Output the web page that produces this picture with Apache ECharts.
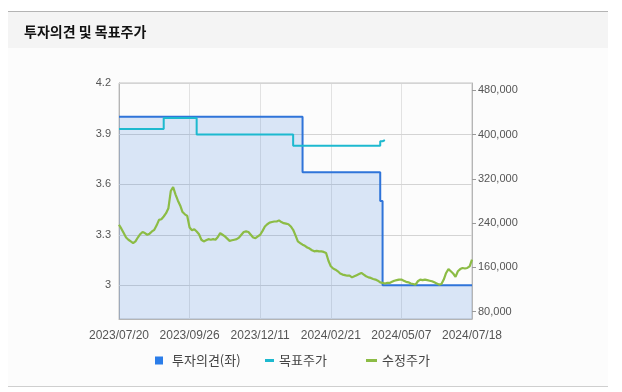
<!DOCTYPE html>
<html>
<head>
<meta charset="utf-8">
<script src="https://cdn.jsdelivr.net/npm/echarts@6/dist/echarts.min.js"></script>
<style>
html, body { margin: 0; padding: 0; background: #fff; }
#main { width: 622px; height: 392px; }
</style>
</head>
<body>
<div id="main"></div>
<script>
// x축 라벨 (거래일 기준 등간격)
const dateLabels = ['2023/07/20', '2023/09/26', '2023/12/11', '2024/02/21', '2024/05/07', '2024/07/18']
const stepsPerLabel = 30

// 투자의견 (좌축)
const opinion = [
  4, 4, 4, 4, 4, 4, 4, 4, 4, 4,
  4, 4, 4, 4, 4, 4, 4, 4, 4, 4,
  4, 4, 4, 4, 4, 4, 4, 4, 4, 4,
  4, 4, 4, 4, 4, 4, 4, 4, 4, 4,
  4, 4, 4, 4, 4, 4, 4, 4, 4, 4,
  4, 4, 4, 4, 4, 4, 4, 4, 4, 4,
  4, 4, 4, 4, 4, 4, 4, 4, 4, 4,
  4, 4, 4, 4, 4, 4, 4, 4, 3.67, 3.67,
  3.67, 3.67, 3.67, 3.67, 3.67, 3.67, 3.67, 3.67, 3.67, 3.67,
  3.67, 3.67, 3.67, 3.67, 3.67, 3.67, 3.67, 3.67, 3.67, 3.67,
  3.67, 3.67, 3.67, 3.67, 3.67, 3.67, 3.67, 3.67, 3.67, 3.67,
  3.67, 3.5, 3, 3, 3, 3, 3, 3, 3, 3,
  3, 3, 3, 3, 3, 3, 3, 3, 3, 3,
  3, 3, 3, 3, 3, 3, 3, 3, 3, 3,
  3, 3, 3, 3, 3, 3, 3, 3, 3, 3,
  3
]

// 목표주가 (우축)
const targetPrice = [
  410000, 410000, 410000, 410000, 410000, 410000, 410000, 410000, 410000, 410000,
  410000, 410000, 410000, 410000, 410000, 410000, 410000, 410000, 410000, 430000,
  430000, 430000, 430000, 430000, 430000, 430000, 430000, 430000, 430000, 430000,
  430000, 430000, 430000, 400000, 400000, 400000, 400000, 400000, 400000, 400000,
  400000, 400000, 400000, 400000, 400000, 400000, 400000, 400000, 400000, 400000,
  400000, 400000, 400000, 400000, 400000, 400000, 400000, 400000, 400000, 400000,
  400000, 400000, 400000, 400000, 400000, 400000, 400000, 400000, 400000, 400000,
  400000, 400000, 400000, 400000, 380000, 380000, 380000, 380000, 380000, 380000,
  380000, 380000, 380000, 380000, 380000, 380000, 380000, 380000, 380000, 380000,
  380000, 380000, 380000, 380000, 380000, 380000, 380000, 380000, 380000, 380000,
  380000, 380000, 380000, 380000, 380000, 380000, 380000, 380000, 380000, 380000,
  380000, 388000, 390000, null, null, null, null, null, null, null,
  null, null, null, null, null, null, null, null, null, null,
  null, null, null, null, null, null, null, null, null, null,
  null, null, null, null, null, null, null, null, null, null,
  null
]

// 수정주가 (우축)
const adjPrice = [
  237000, 230000, 222000, 214000, 210000, 207000, 204000, 207000, 214000, 220000,
  224000, 222000, 219000, 221000, 225000, 228000, 236000, 246000, 247000, 252000,
  258000, 267000, 298000, 305000, 292000, 281000, 272000, 260000, 256000, 253000,
  232000, 227000, 229000, 225000, 220000, 210000, 207000, 209000, 211000, 210000,
  211000, 210000, 215000, 222000, 219000, 216000, 212000, 208000, 209000, 210000,
  211000, 214000, 219000, 224000, 225000, 224000, 219000, 214000, 213000, 216000,
  219000, 226000, 234000, 238000, 241000, 242000, 243000, 243000, 245000, 242000,
  240000, 239000, 238000, 234000, 228000, 218000, 207000, 204000, 201000, 199000,
  196000, 194000, 191000, 189000, 190000, 189000, 189000, 188000, 186000, 172000,
  162000, 158000, 156000, 153000, 149000, 147000, 146000, 145000, 145000, 142000,
  144000, 146000, 148000, 150000, 147000, 144000, 142000, 141000, 139000, 138000,
  136000, 133000, 132000, 131000, 132000, 132000, 134000, 136000, 137000, 138000,
  138000, 136000, 134000, 133000, 131000, 130000, 129000, 135000, 138000, 137000,
  138000, 137000, 136000, 135000, 133000, 131000, 129000, 130000, 138000, 150000,
  157000, 153000, 149000, 143000, 153000, 157000, 159000, 158000, 159000, 162000,
  174000
]

const leftTicks = [3, 3.3, 3.6, 3.9, 4.2]
const rightTicks = [80000, 160000, 240000, 320000, 400000, 480000]

function pad(n) { return n < 10 ? '0' + n : '' + n }
function fmt(d) { return d.getFullYear() + '/' + pad(d.getMonth() + 1) + '/' + pad(d.getDate()) }

// 라벨 사이의 날짜 (툴팁용)
const categories = []
for (let k = 0; k < dateLabels.length - 1; k++) {
  const a = new Date(dateLabels[k]), b = new Date(dateLabels[k + 1])
  for (let j = 0; j < stepsPerLabel; j++) {
    categories.push(fmt(new Date(a.getTime() + (b - a) * j / stepsPerLabel)))
  }
}
categories.push(dateLabels[dateLabels.length - 1])

const chart = echarts.init(document.getElementById('main'), null, { renderer: 'canvas' })

const font = "'Liberation Sans', 'Noto Sans CJK KR', sans-serif"
const krFont = "'Noto Sans CJK KR', sans-serif"

const background = [
  { type: 'rect', z: -100, shape: { x: 8, y: 11, width: 600, height: 376 }, style: { fill: '#fcfcfc' } },
  { type: 'rect', z: -99, shape: { x: 8, y: 12, width: 600, height: 36 }, style: { fill: '#f4f4f4' } },
  { type: 'rect', z: -98, shape: { x: 8, y: 11, width: 600, height: 1 }, style: { fill: '#b4b4b4' } },
  { type: 'rect', z: -98, shape: { x: 8, y: 386, width: 600, height: 1 }, style: { fill: '#cfcfcf' } }
]

const option = {
  animation: false,
  textStyle: { fontFamily: font },
  graphic: background,
  title: {
    text: '투자의견 및 목표주가',
    left: 19,
    top: 20,
    textStyle: { fontFamily: krFont, fontSize: 14, fontWeight: 'bold', color: '#111' }
  },
  legend: [
    {
      data: [{ name: '투자의견(좌)', icon: 'rect' }],
      left: 155, top: 354, padding: 0, itemWidth: 8, itemHeight: 8,
      textStyle: { fontFamily: krFont, fontSize: 13, color: '#444', padding: [0, 0, 0, 4] }
    },
    {
      data: [{ name: '목표주가', icon: 'rect' }],
      left: 265, top: 354, padding: 0, itemWidth: 9, itemHeight: 3,
      textStyle: { fontFamily: krFont, fontSize: 13, color: '#444' }
    },
    {
      data: [{ name: '수정주가', icon: 'rect' }],
      left: 366, top: 354, padding: 0, itemWidth: 11, itemHeight: 3,
      textStyle: { fontFamily: krFont, fontSize: 13, color: '#444' }
    }
  ],
  grid: {
    left: 119, right: 150, top: 83, bottom: 73,
    show: true, backgroundColor: 'transparent', borderColor: '#c4c4c4', borderWidth: 1
  },
  xAxis: {
    type: 'category',
    boundaryGap: false,
    data: categories,
    axisLine: { lineStyle: { color: '#b5b5b5' } },
    axisTick: { show: false },
    axisLabel: { interval: stepsPerLabel - 1, color: '#555', fontSize: 12, margin: 11 },
    splitLine: { show: true, interval: stepsPerLabel - 1, lineStyle: { color: '#e2e2e2' } }
  },
  yAxis: [
    {
      type: 'value',
      min: 2.8, max: 4.2,
      axisLine: { show: true, lineStyle: { color: '#b5b5b5' } },
      axisTick: { show: false, customValues: leftTicks },
      axisLabel: { customValues: leftTicks, color: '#555', fontSize: 11, margin: 8 },
      splitLine: { show: false }
    },
    {
      type: 'value',
      position: 'right',
      min: 66800, max: 493200,
      axisLine: { show: true, lineStyle: { color: '#b5b5b5' } },
      axisTick: { show: true, length: 4, customValues: rightTicks, lineStyle: { color: '#999' } },
      axisLabel: {
        customValues: rightTicks, color: '#555', fontSize: 11, margin: 6,
        formatter: v => v.toString().replace(/\B(?=(\d{3})+(?!\d))/g, ',')
      },
      splitLine: { show: false }
    }
  ],
  series: [
    {
      name: '투자의견(좌)',
      type: 'line',
      step: 'end',
      yAxisIndex: 0,
      data: opinion,
      symbol: 'none',
      lineStyle: { color: '#2f74d9', width: 2 },
      itemStyle: { color: '#2b7de9' },
      areaStyle: { color: '#2f74d9', opacity: 0.17 }
    },
    {
      name: '목표주가',
      type: 'line',
      step: 'end',
      yAxisIndex: 1,
      data: targetPrice,
      symbol: 'none',
      lineStyle: { color: '#1db9cf', width: 2 },
      itemStyle: { color: '#1db9cf' }
    },
    {
      name: '수정주가',
      type: 'line',
      yAxisIndex: 1,
      data: adjPrice,
      symbol: 'none',
      lineStyle: { color: '#8cbc45', width: 2.2 },
      itemStyle: { color: '#8cbc45' }
    }
  ]
}

chart.setOption(option)

// 좌축 눈금 위치에 가로 격자선 (축 스케일로 좌표 변환)
const x0 = chart.convertToPixel({ xAxisIndex: 0 }, 0)
const x1 = chart.convertToPixel({ xAxisIndex: 0 }, categories.length - 1)
const gridLines = leftTicks.map(v => {
  const y = Math.round(chart.convertToPixel({ yAxisIndex: 0 }, v)) + 0.5
  return {
    type: 'line', z: 1, silent: true,
    shape: { x1: x0, y1: y, x2: x1, y2: y },
    style: { stroke: '#d4d4d4', lineWidth: 1 }
  }
})
chart.setOption({ graphic: background.concat(gridLines) })
</script>
</body>
</html>
